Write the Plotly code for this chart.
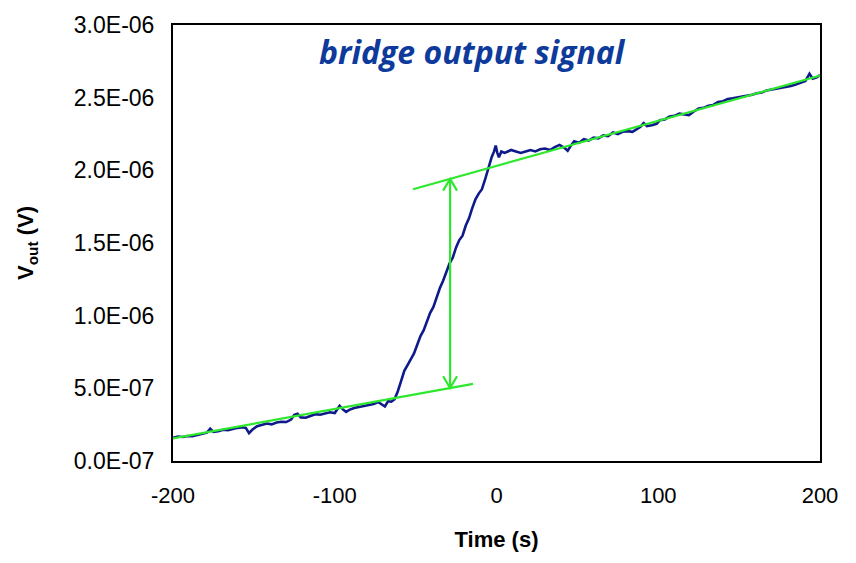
import plotly.graph_objects as go
import numpy as np

# ---- data ----
time_s = [-200, -197, -194, -191, -188, -185, -182, -179, -177, -175, -172, -169, -166, -163, -160,
          -157, -155, -153, -151, -148, -145, -142, -139, -136, -133, -130, -127, -125, -123, -121,
          -118, -115, -112, -109, -106, -103, -100, -97, -95, -93, -91, -88, -85, -82, -79, -76, -73,
          -71, -69, -67, -65, -63,
          -61, -59, -57, -55, -53, -51, -49, -47, -45, -43, -41, -39, -37, -35, -33, -31, -29, -27,
          -25, -23, -21, -19, -17, -15, -13, -11, -9, -7, -5, -3, -1.5, -0.5, 0.5, 1.5, 3, 5, 7, 9,
          12, 15, 18, 21, 24, 27, 30, 33, 36, 39, 42, 44, 46, 48, 51, 54, 57, 60, 63, 66, 69, 72,
          75, 78, 81, 84, 87, 89, 91, 93, 96, 99, 101, 104, 107, 110, 113, 116, 119, 122, 125, 128,
          131, 134, 137, 140, 143, 146, 149, 152, 155, 158, 161, 164, 167, 170, 173, 176, 179, 182,
          185, 188, 191, 193.5, 195.5, 198, 200]
v_out_uV = [0.160, 0.168, 0.165, 0.172, 0.170, 0.178, 0.182, 0.195, 0.222, 0.200, 0.205, 0.215, 0.212,
            0.222, 0.228, 0.232, 0.228, 0.192, 0.215, 0.240, 0.250, 0.258, 0.252, 0.265, 0.270, 0.268,
            0.285, 0.318, 0.325, 0.300, 0.298, 0.312, 0.322, 0.318, 0.328, 0.335, 0.330, 0.380, 0.355,
            0.338, 0.352, 0.365, 0.372, 0.378, 0.385, 0.392, 0.405, 0.392, 0.375, 0.412, 0.408, 0.425,
            0.48, 0.55, 0.62, 0.66, 0.70, 0.74, 0.80, 0.86, 0.90, 0.96, 1.02, 1.06, 1.13, 1.19, 1.24,
            1.30, 1.36, 1.40, 1.47, 1.52, 1.55, 1.62, 1.67, 1.74, 1.80, 1.84, 1.87, 1.94, 2.02, 2.09,
            2.13, 2.17, 2.12, 2.09, 2.13, 2.12, 2.13, 2.14, 2.13, 2.12, 2.13, 2.14, 2.13, 2.145, 2.15,
            2.14, 2.16, 2.175, 2.155, 2.135, 2.17, 2.20, 2.19, 2.215, 2.205, 2.225, 2.22, 2.24, 2.235,
            2.26, 2.25, 2.265, 2.27, 2.265, 2.285, 2.30, 2.325, 2.305, 2.31, 2.32, 2.345, 2.35, 2.37,
            2.375, 2.39, 2.385, 2.38, 2.405, 2.425, 2.43, 2.445, 2.45, 2.47, 2.475, 2.49, 2.495, 2.50,
            2.51, 2.515, 2.52, 2.53, 2.535, 2.55, 2.555, 2.56, 2.57, 2.575, 2.58, 2.59, 2.60, 2.615,
            2.665, 2.63, 2.64, 2.655]

# linear fits before / after the step
lower_fit_t = [-200, -14.5]
lower_fit_uV = [0.155, 0.531]
upper_fit_t = [-51.6, 204]
upper_fit_uV = [1.87, 2.664]
arrow_t = -28.7

x_ticks = [-200, -100, 0, 100, 200]
x_ticktext = ["-200", "-100", "0", "100", "200"]
y_tickvals = [0, 0.5e-6, 1.0e-6, 1.5e-6, 2.0e-6, 2.5e-6, 3.0e-6]
y_ticktext = ["0.0E-07", "5.0E-07", "1.0E-06", "1.5E-06", "2.0E-06", "2.5E-06", "3.0E-06"]

SC = 1e-6
GREEN = "#2ee82e"
BLUE = "#0f1a8a"

v_out = [v * SC for v in v_out_uV]

fig = go.Figure()
fig.add_trace(go.Scatter(x=time_s, y=v_out, mode="lines",
                         line=dict(color=BLUE, width=2.6), showlegend=False))
fig.add_trace(go.Scatter(x=lower_fit_t, y=[v * SC for v in lower_fit_uV], mode="lines",
                         line=dict(color=GREEN, width=2.2), showlegend=False))
fig.add_trace(go.Scatter(x=upper_fit_t, y=[v * SC for v in upper_fit_uV], mode="lines",
                         line=dict(color=GREEN, width=2.2), showlegend=False))

# arrow between the fits
y_top = np.interp(arrow_t, upper_fit_t, upper_fit_uV) * SC
y_bot = np.interp(arrow_t, lower_fit_t, lower_fit_uV) * SC
hx, hy = 4.3, 0.081e-6
fig.add_trace(go.Scatter(x=[arrow_t, arrow_t], y=[y_top, y_bot], mode="lines",
                         line=dict(color=GREEN, width=2.2), showlegend=False))
fig.add_trace(go.Scatter(x=[arrow_t - hx, arrow_t, arrow_t + hx], y=[y_top - hy, y_top, y_top - hy],
                         mode="lines", line=dict(color=GREEN, width=2.2), showlegend=False))
fig.add_trace(go.Scatter(x=[arrow_t - hx, arrow_t, arrow_t + hx], y=[y_bot + hy, y_bot, y_bot + hy],
                         mode="lines", line=dict(color=GREEN, width=2.2), showlegend=False))

fig.add_annotation(text="bridge output signal", x=0.463, y=0.94,
                   xref="paper", yref="paper", xanchor="center", yanchor="middle",
                   showarrow=False,
                   font=dict(family="Open Sans", size=32, color="#0d3a9b",
                             weight="bold", style="italic"))

fig.update_layout(
    width=856, height=563,
    margin=dict(l=173, r=36, t=15, b=102),
    paper_bgcolor="white", plot_bgcolor="white",
    font=dict(family="Liberation Sans, Arial", color="black"),
    xaxis=dict(range=[-200, 200], tickvals=x_ticks, ticktext=x_ticktext, showgrid=False,
               zeroline=False, showline=True, linecolor="black", linewidth=2, mirror=True,
               ticks="", tickfont=dict(size=22), ticklabelstandoff=14,
               title=dict(text="Time (s)", font=dict(size=22, weight="bold"), standoff=24)),
    yaxis=dict(range=[0, 3e-6], tickvals=y_tickvals, ticktext=y_ticktext, showgrid=False,
               zeroline=False, showline=True, linecolor="black", linewidth=2, mirror=True,
               ticks="", tickfont=dict(size=23), ticklabelstandoff=12,
               title=dict(text="V<sub>out</sub> (V)", font=dict(size=22, weight="bold"),
                          standoff=34)),
)

fig.write_html("out.html")
